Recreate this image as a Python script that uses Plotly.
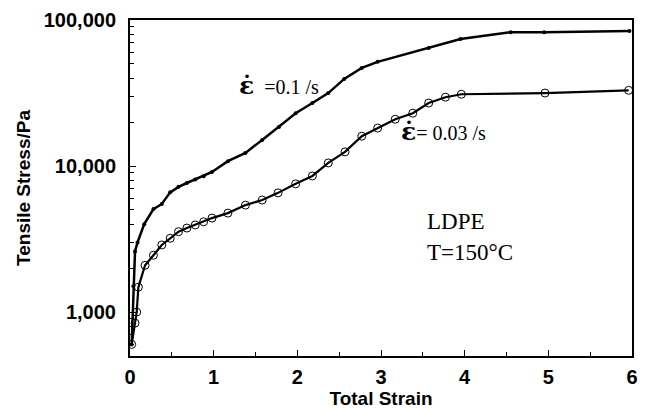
import plotly.graph_objects as go

# 0.1 /s curve (filled dots)
strain_fast = [0.02, 0.04, 0.06, 0.09, 0.17, 0.28, 0.38, 0.48, 0.58, 0.68, 0.78, 0.88, 0.98,
               1.17, 1.38, 1.58, 1.78, 1.98, 2.18, 2.37, 2.56, 2.77, 2.96, 3.57, 3.95, 4.55, 4.95, 5.97]
stress_fast = [600, 1500, 2600, 3000, 4000, 5070, 5500, 6600, 7200, 7650, 8100, 8500, 9100,
               10800, 12300, 15100, 18500, 23000, 27000, 31600, 39500, 47000, 51700, 64300, 74000, 82500, 82500, 84000]

# 0.03 /s curve (open circles)
strain_slow = [0.02, 0.06, 0.08, 0.10, 0.18, 0.28, 0.38, 0.48, 0.58, 0.68, 0.78, 0.88, 0.98,
               1.17, 1.38, 1.58, 1.77, 1.98, 2.18, 2.37, 2.57, 2.77, 2.96, 3.17, 3.38, 3.57, 3.77, 3.96, 4.96, 5.96]
stress_slow = [600, 840, 1000, 1480, 2090, 2450, 2880, 3200, 3550, 3760, 3950, 4150, 4400,
               4760, 5400, 5850, 6550, 7550, 8550, 10500, 12500, 16000, 18200, 20900, 23000, 27000, 29600, 31000, 31600, 33000]

x_ticks = [0, 1, 2, 3, 4, 5, 6]
y_ticks = [1000, 10000, 100000]
y_tick_labels = ["1,000", "10,000", "100,000"]

fig = go.Figure()
fig.add_trace(go.Scatter(x=strain_fast, y=stress_fast, mode="lines+markers",
                         line=dict(color="black", width=2.5),
                         marker=dict(symbol="circle", size=4, color="black")))
fig.add_trace(go.Scatter(x=strain_slow, y=stress_slow, mode="lines+markers",
                         line=dict(color="black", width=2.2),
                         marker=dict(symbol="circle-open", size=8, color="black", line=dict(width=1))))

minor_y = [m * 10 ** e for e in (2, 3, 4) for m in range(2, 10) if 500 <= m * 10 ** e <= 100000]

sans = "Liberation Sans, Arial"
fig.update_layout(
    width=649, height=409,
    margin=dict(l=122, r=25, t=12, b=61),
    paper_bgcolor="white", plot_bgcolor="white",
    showlegend=False,
    font=dict(family=sans, color="black"),
    xaxis=dict(range=[0, 6], tickvals=x_ticks, ticks="inside", ticklen=6, tickwidth=1,
               tickcolor="black", showline=True, linecolor="black", linewidth=2, mirror=True,
               showgrid=False, zeroline=False, ticklabelstandoff=2, automargin=False,
               tickfont=dict(size=20, family=sans, color="black", weight="bold"),
               minor=dict(ticks="inside", ticklen=4, dtick=0.5, tickcolor="black", showgrid=False),
               title=dict(text="<b>Total Strain</b>", font=dict(size=19), standoff=3)),
    yaxis=dict(type="log", range=[2.699, 5], tickvals=y_ticks, ticktext=y_tick_labels,
               ticks="inside", ticklen=6, tickwidth=1, tickcolor="black",
               showline=True, linecolor="black", linewidth=2, mirror=True,
               showgrid=False, zeroline=False, ticklabelstandoff=8, automargin=False,
               tickfont=dict(size=20, family=sans, color="black", weight="bold"),
               minor=dict(ticks="inside", ticklen=4, tickvals=minor_y, tickcolor="black", showgrid=False),
               title=dict(text="<b>Tensile Stress/Pa</b>", font=dict(size=19), standoff=8)),
)

serif = "Liberation Serif, Times New Roman"
eps = '<b><span style="font-family:DejaVu Serif;font-size:25px">\u03b5\u0307</span></b>'
anns = [
    dict(x=0.213, y=0.805, text=eps + "  =0.1 /s", size=20),
    dict(x=0.536, y=0.668, text=eps + "= 0.03 /s", size=20),
    dict(x=0.587, y=0.399, text="LDPE", size=23),
    dict(x=0.587, y=0.307, text="T=150°C", size=23),
]
for a in anns:
    fig.add_annotation(x=a["x"], y=a["y"], xref="paper", yref="paper", text=a["text"],
                       showarrow=False, xanchor="left", yanchor="middle",
                       font=dict(family=serif, size=a["size"], color="black"))

fig.write_html("out.html")
